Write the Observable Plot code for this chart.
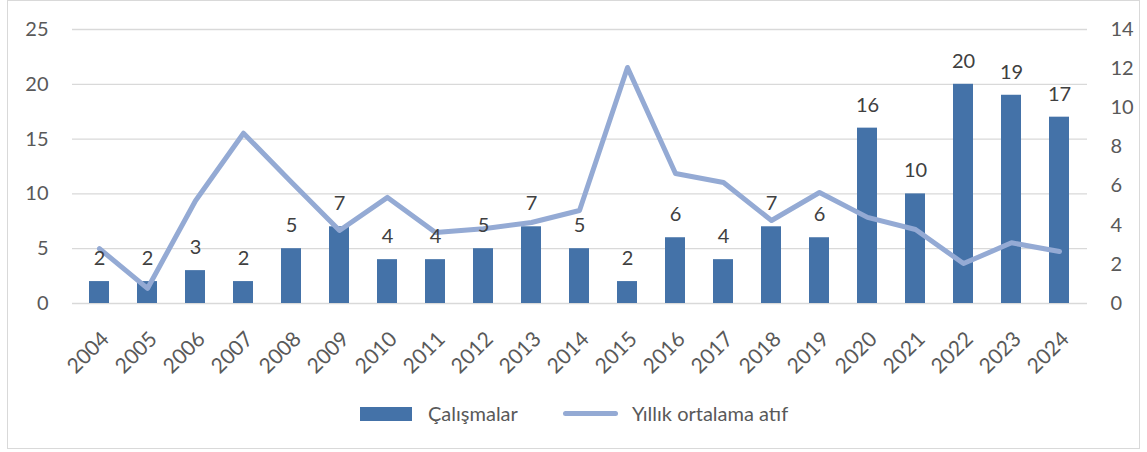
<!DOCTYPE html>
<html>
<head>
<meta charset="utf-8">
<script src="https://cdn.jsdelivr.net/npm/d3@7"></script>
<script src="https://cdn.jsdelivr.net/npm/@observablehq/plot@0.6"></script>
<style>
  html, body { margin: 0; padding: 0; background: #fff; }
  #wrap { position: relative; width: 1147px; height: 452px; overflow: hidden; font-family: Lato, "Open Sans", sans-serif; }
  #frame { position: absolute; left: 7px; top: 0px; width: 1133px; height: 449px; border: 1px solid #d9d9d9; box-sizing: border-box; }
  #chart { position: absolute; left: 0; top: 0; }
  .leg { position: absolute; font-size: 20px; color: #595959; line-height: 20px; }
</style>
</head>
<body>
<div id="wrap">
  <div id="frame"></div>
  <div id="chart"></div>
  <div id="legend"></div>
</div>
<script>
const years = ["2004","2005","2006","2007","2008","2009","2010","2011","2012","2013","2014","2015","2016","2017","2018","2019","2020","2021","2022","2023","2024"];
const studies = [2,2,3,2,5,7,4,4,5,7,5,2,6,4,7,6,16,10,20,19,17];
const avgCitations = [2.8,0.77,5.25,8.7,6.2,3.73,5.42,3.63,3.82,4.14,4.75,12.06,6.64,6.18,4.24,5.67,4.4,3.78,2.04,3.1,2.66];
const leftTicks = [0,5,10,15,20,25];
const rightTicks = [0,2,4,6,8,10,12,14];
const seriesNames = ["Çalışmalar", "Yıllık ortalama atıf"];

const barColor = "#4472a8";
const lineColor = "#94aad4";
const leftMax = 25, rightMax = 14;
const k = leftMax / rightMax;

const table = years.map((y, i) => ({year: y, n: studies[i], avg: avgCitations[i], avgScaled: avgCitations[i] * k}));

const chart = Plot.plot({
  width: 1147,
  height: 452,
  marginLeft: 72,
  marginRight: 60,
  marginTop: 29,
  marginBottom: 149,
  style: {fontFamily: "Lato, 'Open Sans', sans-serif", fontSize: "20px", background: "transparent"},
  x: {type: "band", domain: years, paddingInner: 0.58, paddingOuter: 0.29, label: null},
  y: {domain: [0, leftMax], label: null},
  marks: [
    Plot.ruleY(leftTicks, {stroke: "#d9d9d9", strokeWidth: 1.3}),
    Plot.barY(table, {x: "year", y: "n", fill: barColor}),
    Plot.line(table, {x: "year", y: "avgScaled", stroke: lineColor, strokeWidth: 5, strokeLinejoin: "round", strokeLinecap: "round"}),
    Plot.text(table, {x: "year", y: "n", text: d => String(d.n), dy: -23, fill: "#404040", fontSize: 20, lineAnchor: "middle"}),
    Plot.axisY(leftTicks, {anchor: "left", tickSize: 0, tickPadding: 24, fill: "#595959", fontSize: 20, label: null}),
    Plot.axisY(rightTicks.map(t => t * k), {anchor: "right", tickSize: 0, tickPadding: 23, fill: "#595959", fontSize: 20, label: null, tickFormat: d => String(Math.round(d / k))}),
    Plot.axisX({tickSize: 0, tickPadding: 19, tickRotate: -45, fill: "#595959", fontSize: 21, label: null, dx: 6, dy: 13})
  ]
});
document.getElementById("chart").appendChild(chart);

const legend = document.getElementById("legend");
legend.innerHTML = `
  <div style="position:absolute;left:360px;top:407px;width:52px;height:14px;background:${barColor}"></div>
  <div class="leg" style="left:428px;top:403px;">${seriesNames[0]}</div>
  <div style="position:absolute;left:563px;top:411px;width:55px;height:5px;border-radius:3px;background:${lineColor}"></div>
  <div class="leg" style="left:632px;top:403px;">${seriesNames[1]}</div>
`;
</script>
</body>
</html>
